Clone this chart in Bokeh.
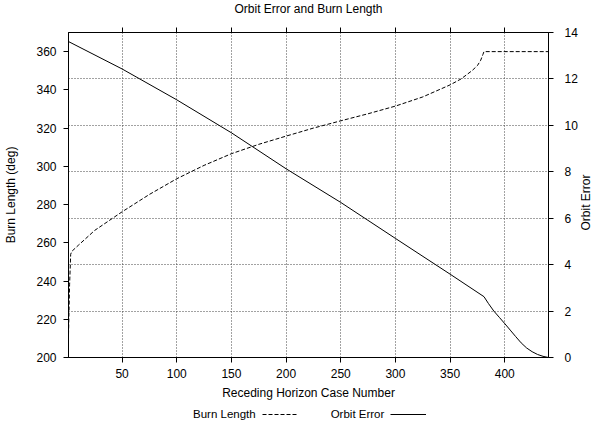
from bokeh.plotting import figure
from bokeh.layouts import column, row
from bokeh.models import (Range1d, LinearAxis, FixedTicker, Grid, Legend,
                          LegendItem, Label)
from bokeh.embed import file_html
from bokeh.resources import INLINE

FONT = "Liberation Sans"

# Burn length (deg) per receding-horizon case
burn_case = [1, 2, 3, 4, 10, 25, 50, 75, 100, 125, 150, 175, 200, 225, 250,
             275, 300, 325, 350, 360, 370, 375, 378, 380, 381, 440]
burn_len = [212, 238, 254, 255.5, 258.7, 266.5, 276.2, 285.3, 293.5, 300.5,
            306.6, 311.5, 315.8, 320.0, 323.8, 327.5, 331.5, 336.3, 342.6,
            345.7, 350.0, 352.7, 355.5, 358.5, 360, 360]

# Orbit error per receding-horizon case
err_case = [1, 50, 100, 150, 200, 250, 300, 350, 381, 385, 390, 395, 400,
            405, 410, 415, 420, 425, 430, 435, 440]
orbit_err = [13.61, 12.43, 11.10, 9.68, 8.13, 6.68, 5.13, 3.59, 2.62, 2.33,
             2.0, 1.73, 1.46, 1.18, 0.9, 0.63, 0.41, 0.25, 0.13, 0.05, 0.0]

x_ticks = [50, 100, 150, 200, 250, 300, 350, 400]
burn_ticks = [200, 220, 240, 260, 280, 300, 320, 340, 360]
err_ticks = [0, 2, 4, 6, 8, 10, 12, 14]

TITLE_H = 24
KEY_H = 29
MAIN_H = 431 - TITLE_H - KEY_H

p = figure(width=580, height=MAIN_H, output_backend="svg",
           toolbar_location=None,
           x_range=Range1d(1, 440), y_range=Range1d(200, 370),
           min_border_left=68, min_border_right=32, min_border_top=8,
           min_border_bottom=44,
           x_axis_label="Receding Horizon Case Number",
           y_axis_label="Burn Length (deg)")
p.extra_y_ranges = {"err": Range1d(0, 14)}
p.background_fill_color = "white"
p.border_fill_color = "white"
p.outline_line_color = "black"
p.outline_line_width = 1


def style_axis(ax, show_labels=True):
    ax.major_tick_out = 5
    ax.major_tick_in = 0
    ax.minor_tick_out = 0
    ax.minor_tick_in = 0
    ax.axis_line_color = "black"
    ax.major_tick_line_color = "black"
    ax.major_label_text_font = FONT
    ax.major_label_text_font_size = "12px"
    ax.major_label_text_color = "black" if show_labels else None
    ax.axis_label_text_font = FONT
    ax.axis_label_text_font_size = "12px"
    ax.axis_label_text_font_style = "normal"
    ax.axis_label_text_color = "black"


xax = p.xaxis[0]
xax.ticker = FixedTicker(ticks=x_ticks)
style_axis(xax)
xax.major_label_standoff = 6
xax.axis_label_standoff = 5

yax = p.yaxis[0]
yax.ticker = FixedTicker(ticks=burn_ticks)
style_axis(yax)
yax.major_label_standoff = 7
yax.axis_label_standoff = 15

right = LinearAxis(y_range_name="err", ticker=FixedTicker(ticks=err_ticks))
style_axis(right)
right.major_label_standoff = 11
p.add_layout(right, "right")

top = LinearAxis(ticker=FixedTicker(ticks=x_ticks))
style_axis(top, show_labels=False)
top.major_label_standoff = 0
top.major_label_overrides = {t: "" for t in x_ticks}
p.add_layout(top, "above")

# dotted grid: vertical at case ticks, horizontal at orbit-error ticks
p.xgrid.ticker = FixedTicker(ticks=x_ticks)
p.xgrid.grid_line_color = "#444444"
p.xgrid.grid_line_dash = "1 2"
p.ygrid.visible = False
hgrid = Grid(dimension=1, y_range_name="err",
             ticker=FixedTicker(ticks=err_ticks[1:-1]),
             grid_line_color="#444444", grid_line_dash="1 2")
p.add_layout(hgrid)

BURN_STYLE = dict(line_color="black", line_width=1, line_dash="4 2")
ERR_STYLE = dict(line_color="black", line_width=1)

p.line(burn_case, burn_len, **BURN_STYLE)
p.line(err_case, orbit_err, y_range_name="err", **ERR_STYLE)


def strip(width, height):
    f = figure(width=width, height=height, output_backend="svg",
               toolbar_location=None, x_axis_type=None, y_axis_type=None,
               x_range=Range1d(0, 1), y_range=Range1d(0, 1), min_border=0)
    f.outline_line_color = None
    f.background_fill_color = "white"
    f.border_fill_color = "white"
    return f


# title strip across the top
head = strip(597, TITLE_H)
head.add_layout(Label(x=308, y=TITLE_H - 8.5, x_units="screen",
                      y_units="screen", text="Orbit Error and Burn Length",
                      text_align="center", text_baseline="middle",
                      text_font=FONT, text_font_size="12px",
                      text_color="black"))

# right-hand strip carrying the secondary axis title
side = strip(17, MAIN_H)
side.add_layout(Label(x=-2, y=MAIN_H - 177 - 46, x_units="screen",
                      y_units="screen",
                      text="Orbit Error", angle=90, angle_units="deg",
                      text_align="center", text_baseline="top",
                      text_font=FONT, text_font_size="12px",
                      text_color="black"))

# key strip: text precedes each sample line
key = strip(597, KEY_H)
k_blank = key.line([0], [0], line_color=None)
k_burn = key.line([0], [0], **BURN_STYLE)
k_err = key.line([0], [0], **ERR_STYLE)
legend = Legend(items=[LegendItem(label="Burn Length", renderers=[k_blank]),
                       LegendItem(label="Orbit Error", renderers=[k_burn]),
                       LegendItem(label=" ", renderers=[k_err])],
                orientation="horizontal", location=(124, 10),
                glyph_width=36, glyph_height=14, label_height=14,
                label_standoff=33, spacing=6, padding=0, margin=0,
                border_line_color=None, background_fill_alpha=0,
                label_text_font=FONT, label_text_font_size="11.5px",
                label_text_color="black")
key.add_layout(legend)

layout = column(head, row(p, side), key)
open("out.html", "w").write(file_html(layout, INLINE))
